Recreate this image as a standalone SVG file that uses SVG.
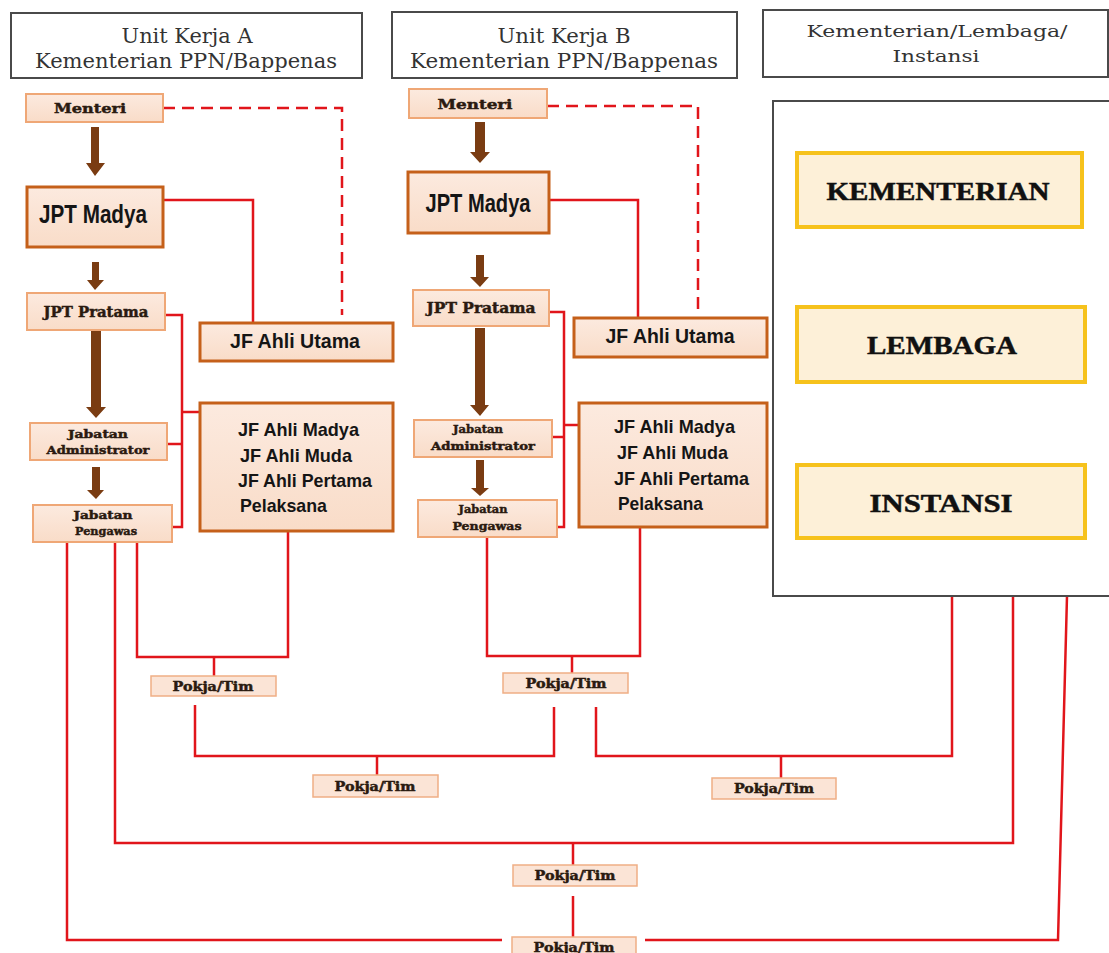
<svg xmlns="http://www.w3.org/2000/svg" width="1109" height="953" viewBox="0 0 1109 953">
<defs>
<linearGradient id="peach" x1="0" y1="0" x2="0" y2="1">
<stop offset="0" stop-color="#FCEADF"/>
<stop offset="1" stop-color="#F9DCC8"/>
</linearGradient>
<style>
.hdr{font-family:"DejaVu Serif","Liberation Serif",serif;fill:#333;font-size:20px;text-anchor:middle}
.hdrc{font-family:"DejaVu Serif","Liberation Serif",serif;fill:#333;font-size:16.5px;text-anchor:middle}
.slab{font-family:"DejaVu Serif","Liberation Serif",serif;font-weight:bold;fill:#2a1a10;stroke:#2a1a10;stroke-width:0.45;text-anchor:middle}
.sans{font-family:"Liberation Sans","Noto Sans",sans-serif;font-weight:bold;fill:#151515}
.big{font-family:"Liberation Serif","DejaVu Serif",serif;font-weight:bold;font-size:26px;fill:#111;stroke:#111;stroke-width:0.5;text-anchor:middle}
.node{fill:url(#peach);stroke:#EFA776;stroke-width:2}
.nodeS{fill:url(#peach);stroke:#C5601A;stroke-width:3}
.pk{fill:#FBE4D6;stroke:#EFAE85;stroke-width:1.5}
.yb{fill:#FDF0D8;stroke:#F6C21C;stroke-width:4}
.frame{fill:#fff;stroke:#4a4a4a;stroke-width:2}
.ln{fill:none;stroke:#E1151B;stroke-width:2.5}
.dash{fill:none;stroke:#E1151B;stroke-width:2.5;stroke-dasharray:12 7}
.arr{fill:#7A3C12}
</style>
</defs>
<rect width="1109" height="953" fill="#fff"/>

<g id="connectors">
<path class="dash" d="M163,108 H342 V315"/>
<path class="dash" d="M547,106 H698 V313"/>
<path class="ln" d="M163,200 H253 V323"/>
<path class="ln" d="M165,315 H182 V527 H172"/>
<path class="ln" d="M167,444 H182"/>
<path class="ln" d="M182,412 H200"/>
<path class="ln" d="M67,542 V940 H502"/>
<path class="ln" d="M115,542 V843 H1013 V596"/>
<path class="ln" d="M137,542 V657 H288 V531"/>
<path class="ln" d="M214,657 V676"/>
<path class="ln" d="M195,705 V756 H554 V707"/>
<path class="ln" d="M377,756 V775"/>
<path class="ln" d="M549,200 H638 V318"/>
<path class="ln" d="M549,312 H564 V527 H557"/>
<path class="ln" d="M552,437 H564"/>
<path class="ln" d="M564,425 H579"/>
<path class="ln" d="M487,537 V656 H640 V527"/>
<path class="ln" d="M572,656 V673"/>
<path class="ln" d="M596,707 V756 H952 V596"/>
<path class="ln" d="M781,756 V778"/>
<path class="ln" d="M573,843 V865"/>
<path class="ln" d="M573,896 V937"/>
<path class="ln" d="M645,940 H1058 L1067,596"/>
<polygon class="arr" points="91,127 99,127 99,163 105,163 95,176 86,163 91,163"/>
<polygon class="arr" points="92,262 99,262 99,280 104,280 95,290 87,280 92,280"/>
<polygon class="arr" points="91,330 101,330 101,407 106,407 96,418 86,407 91,407"/>
<polygon class="arr" points="92,467 100,467 100,490 104,490 96,499 87,490 92,490"/>
<polygon class="arr" points="475,122 485,122 485,152 490,152 480,163 470,152 475,152"/>
<polygon class="arr" points="476,255 484,255 484,277 489,277 480,287 470,277 476,277"/>
<polygon class="arr" points="475,328 485,328 485,405 489,405 480,416 470,405 475,405"/>
<polygon class="arr" points="476,460 484,460 484,488 489,488 480,496 471,488 476,488"/>
</g>

<g id="hdr-a">
<rect class="frame" x="11" y="13" width="351" height="65"/>
<text class="hdr" x="187" y="43" textLength="131" lengthAdjust="spacingAndGlyphs">Unit Kerja A</text>
<text class="hdr" x="186" y="68" textLength="302" lengthAdjust="spacingAndGlyphs">Kementerian PPN/Bappenas</text>
</g>
<g id="hdr-b">
<rect class="frame" x="392" y="12" width="345" height="66"/>
<text class="hdr" x="564" y="43" textLength="133" lengthAdjust="spacingAndGlyphs">Unit Kerja B</text>
<text class="hdr" x="564" y="68" textLength="308" lengthAdjust="spacingAndGlyphs">Kementerian PPN/Bappenas</text>
</g>
<g id="hdr-c">
<rect class="frame" x="763" y="10" width="345" height="67"/>
<text class="hdrc" x="937" y="37" textLength="261" lengthAdjust="spacingAndGlyphs">Kementerian/Lembaga/</text>
<text class="hdrc" x="936" y="62" textLength="87" lengthAdjust="spacingAndGlyphs">Instansi</text>
</g>

<g id="kli">
<rect class="frame" x="773" y="101" width="345" height="495"/>
<g id="kementerian">
<rect class="yb" x="797" y="153" width="285" height="74"/>
<text class="big" x="938" y="200" textLength="223" lengthAdjust="spacingAndGlyphs">KEMENTERIAN</text>
</g>
<g id="lembaga">
<rect class="yb" x="797" y="307" width="288" height="75"/>
<text class="big" x="942" y="354" textLength="150" lengthAdjust="spacingAndGlyphs">LEMBAGA</text>
</g>
<g id="instansi">
<rect class="yb" x="797" y="465" width="288" height="73"/>
<text class="big" x="941" y="512" textLength="143" lengthAdjust="spacingAndGlyphs">INSTANSI</text>
</g>
</g>

<g id="a-menteri">
<rect class="node" x="26" y="94" width="137" height="28"/>
<text class="slab" x="90" y="113" font-size="13" textLength="72" lengthAdjust="spacingAndGlyphs">Menteri</text>
</g>
<g id="a-jpt-madya">
<rect class="nodeS" x="27" y="187" width="136" height="60"/>
<text class="sans" x="93" y="223" font-size="25" text-anchor="middle" textLength="108" lengthAdjust="spacingAndGlyphs">JPT Madya</text>
</g>
<g id="a-jpt-pratama">
<rect class="node" x="27" y="293" width="138" height="37"/>
<text class="slab" x="96" y="317" font-size="14" textLength="105" lengthAdjust="spacingAndGlyphs">JPT Pratama</text>
</g>
<g id="a-administrator">
<rect class="node" x="30" y="423" width="137" height="37"/>
<text class="slab" x="98" y="438" font-size="11" textLength="60" lengthAdjust="spacingAndGlyphs">Jabatan</text>
<text class="slab" x="98" y="454" font-size="11" textLength="103" lengthAdjust="spacingAndGlyphs">Administrator</text>
</g>
<g id="a-pengawas">
<rect class="node" x="33" y="505" width="139" height="37"/>
<text class="slab" x="103" y="519" font-size="11" textLength="59" lengthAdjust="spacingAndGlyphs">Jabatan</text>
<text class="slab" x="106" y="535" font-size="11" textLength="62" lengthAdjust="spacingAndGlyphs">Pengawas</text>
</g>
<g id="a-jf-utama">
<rect class="nodeS" x="200" y="323" width="193" height="38"/>
<text class="sans" x="295" y="348" font-size="21" text-anchor="middle" textLength="130" lengthAdjust="spacingAndGlyphs">JF Ahli Utama</text>
</g>
<g id="a-jf-lain">
<rect class="nodeS" x="200" y="403" width="193" height="128"/>
<text class="sans" x="238" y="436" font-size="19" textLength="121" lengthAdjust="spacingAndGlyphs">JF Ahli Madya</text>
<text class="sans" x="240" y="462" font-size="19" textLength="112" lengthAdjust="spacingAndGlyphs">JF Ahli Muda</text>
<text class="sans" x="238" y="487" font-size="19" textLength="134" lengthAdjust="spacingAndGlyphs">JF Ahli Pertama</text>
<text class="sans" x="240" y="512" font-size="19" textLength="87" lengthAdjust="spacingAndGlyphs">Pelaksana</text>
</g>

<g id="b-menteri">
<rect class="node" x="409" y="89" width="138" height="29"/>
<text class="slab" x="475" y="109" font-size="13" textLength="75" lengthAdjust="spacingAndGlyphs">Menteri</text>
</g>
<g id="b-jpt-madya">
<rect class="nodeS" x="408" y="172" width="141" height="61"/>
<text class="sans" x="478" y="212" font-size="25" text-anchor="middle" textLength="105" lengthAdjust="spacingAndGlyphs">JPT Madya</text>
</g>
<g id="b-jpt-pratama">
<rect class="node" x="413" y="290" width="136" height="36"/>
<text class="slab" x="481" y="313" font-size="14" textLength="109" lengthAdjust="spacingAndGlyphs">JPT Pratama</text>
</g>
<g id="b-administrator">
<rect class="node" x="414" y="420" width="138" height="37"/>
<text class="slab" x="478" y="433" font-size="11" textLength="50" lengthAdjust="spacingAndGlyphs">Jabatan</text>
<text class="slab" x="483" y="450" font-size="11" textLength="104" lengthAdjust="spacingAndGlyphs">Administrator</text>
</g>
<g id="b-pengawas">
<rect class="node" x="418" y="500" width="139" height="37"/>
<text class="slab" x="483" y="513" font-size="11" textLength="49" lengthAdjust="spacingAndGlyphs">Jabatan</text>
<text class="slab" x="487" y="530" font-size="11" textLength="69" lengthAdjust="spacingAndGlyphs">Pengawas</text>
</g>
<g id="b-jf-utama">
<rect class="nodeS" x="574" y="318" width="193" height="39"/>
<text class="sans" x="670" y="343" font-size="21" text-anchor="middle" textLength="129" lengthAdjust="spacingAndGlyphs">JF Ahli Utama</text>
</g>
<g id="b-jf-lain">
<rect class="nodeS" x="579" y="403" width="188" height="124"/>
<text class="sans" x="614" y="433" font-size="19" textLength="121" lengthAdjust="spacingAndGlyphs">JF Ahli Madya</text>
<text class="sans" x="617" y="459" font-size="19" textLength="111" lengthAdjust="spacingAndGlyphs">JF Ahli Muda</text>
<text class="sans" x="614" y="485" font-size="19" textLength="135" lengthAdjust="spacingAndGlyphs">JF Ahli Pertama</text>
<text class="sans" x="618" y="510" font-size="19" textLength="85" lengthAdjust="spacingAndGlyphs">Pelaksana</text>
</g>

<g id="pokja-a">
<rect class="pk" x="151" y="676" width="125" height="20"/>
<text class="slab" x="213" y="691" font-size="12" textLength="81" lengthAdjust="spacingAndGlyphs">Pokja/Tim</text>
</g>
<g id="pokja-b">
<rect class="pk" x="503" y="673" width="125" height="20"/>
<text class="slab" x="566" y="688" font-size="12" textLength="81" lengthAdjust="spacingAndGlyphs">Pokja/Tim</text>
</g>
<g id="pokja-ab">
<rect class="pk" x="313" y="775" width="125" height="22"/>
<text class="slab" x="375" y="791" font-size="12" textLength="81" lengthAdjust="spacingAndGlyphs">Pokja/Tim</text>
</g>
<g id="pokja-bk">
<rect class="pk" x="712" y="778" width="124" height="21"/>
<text class="slab" x="774" y="793" font-size="12" textLength="80" lengthAdjust="spacingAndGlyphs">Pokja/Tim</text>
</g>
<g id="pokja-abk">
<rect class="pk" x="513" y="865" width="124" height="21"/>
<text class="slab" x="575" y="880" font-size="12" textLength="81" lengthAdjust="spacingAndGlyphs">Pokja/Tim</text>
</g>
<g id="pokja-all">
<rect class="pk" x="512" y="937" width="124" height="22"/>
<text class="slab" x="574" y="952" font-size="12" textLength="81" lengthAdjust="spacingAndGlyphs">Pokja/Tim</text>
</g>
</svg>
